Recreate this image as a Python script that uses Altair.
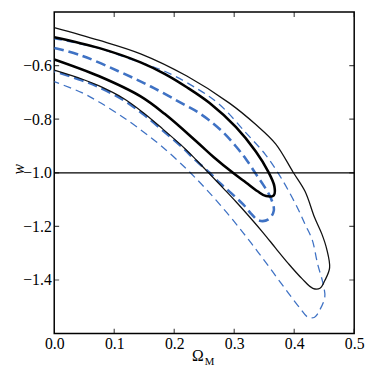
import altair as alt
import pandas as pd

# ---- data ----
# inner contour, solid black (thick)
tb_om = [0.000, 0.074, 0.144, 0.184, 0.221, 0.259, 0.303, 0.336, 0.356, 0.367, 0.366, 0.353,
         0.339, 0.320, 0.300, 0.266, 0.238, 0.184, 0.144, 0.074, 0.000]
tb_w = [-0.494, -0.534, -0.588, -0.631, -0.681, -0.740, -0.830, -0.921, -0.993, -1.051, -1.084, -1.087,
        -1.069, -1.037, -1.004, -0.942, -0.885, -0.780, -0.715, -0.639, -0.577]

# outer contour, solid black (thin)
ob_om = [0.000, 0.074, 0.144, 0.221, 0.292, 0.336, 0.369, 0.398, 0.418, 0.434, 0.446, 0.454, 0.459,
         0.451, 0.443, 0.431, 0.413, 0.390, 0.369, 0.348, 0.325, 0.303, 0.282, 0.259, 0.238, 0.218,
         0.180, 0.148, 0.115, 0.074, 0.046, 0.000]
ob_w = [-0.458, -0.505, -0.556, -0.639, -0.740, -0.820, -0.892, -0.997, -1.069, -1.167, -1.228, -1.283,
        -1.355, -1.402, -1.431, -1.431, -1.395, -1.338, -1.281, -1.223, -1.163, -1.108, -1.058, -1.004,
        -0.955, -0.910, -0.835, -0.775, -0.722, -0.675, -0.650, -0.617]

# inner contour, dashed blue (thick)
tbl_om = [0.000, 0.046, 0.107, 0.161, 0.216, 0.238, 0.259, 0.282, 0.303, 0.320, 0.336, 0.349, 0.361,
          0.366, 0.357, 0.341, 0.328, 0.315, 0.295, 0.275, 0.259, 0.233, 0.216, 0.180, 0.148, 0.115,
          0.074, 0.046, 0.000]
tbl_w = [-0.534, -0.563, -0.621, -0.678, -0.745, -0.772, -0.805, -0.850, -0.902, -0.950, -1.004, -1.047,
         -1.094, -1.141, -1.174, -1.178, -1.152, -1.118, -1.076, -1.036, -1.000, -0.948, -0.910, -0.840,
         -0.781, -0.728, -0.680, -0.655, -0.621]

# outer contour, dashed blue (thin)
obl_om = [0.000, 0.074, 0.128, 0.184, 0.238, 0.275, 0.320, 0.352, 0.374, 0.390, 0.407, 0.418, 0.430,
          0.439, 0.448, 0.451, 0.443, 0.434, 0.423, 0.410, 0.390, 0.364, 0.339, 0.315, 0.287, 0.254,
          0.221, 0.177, 0.139, 0.107, 0.074, 0.046, 0.000]
obl_w = [-0.500, -0.535, -0.577, -0.621, -0.686, -0.744, -0.852, -0.932, -1.004, -1.065, -1.138, -1.192,
         -1.250, -1.340, -1.413, -1.463, -1.510, -1.539, -1.539, -1.506, -1.448, -1.369, -1.294, -1.224,
         -1.147, -1.063, -0.987, -0.897, -0.831, -0.781, -0.735, -0.701, -0.660]

hline_w = [-1.0]
x_ticks = [0.0, 0.1, 0.2, 0.3, 0.4, 0.5]
y_ticks = [-1.4, -1.2, -1.0, -0.8, -0.6]

FONT = "Liberation Serif"
BLUE = "#3f72c4"

x_scale = alt.Scale(domain=[0, 0.5], nice=False, zero=False)
y_scale = alt.Scale(domain=[-1.6, -0.4], nice=False, zero=False)
x_axis = alt.Axis(values=x_ticks, format=".1f", ticks=False, domain=False, grid=False, title=None,
                  labelFont=FONT, labelFontSize=16, labelColor="black", labelPadding=2,
                  labelFlush=False, labelOverlap=False)
y_axis = alt.Axis(values=y_ticks, format=".1f", ticks=False, domain=False, grid=False, title=None,
                  labelFont=FONT, labelFontSize=16, labelColor="black", labelPadding=3,
                  labelOverlap=False)


def X(field):
    return alt.X(field, scale=x_scale, axis=x_axis)


def Y(field):
    return alt.Y(field, scale=y_scale, axis=y_axis)


def contour(om, w, color, width, dash=None):
    df = pd.DataFrame({"om": om, "w": w, "i": list(range(len(om)))})
    mk = dict(color=color, strokeWidth=width, interpolate="catmull-rom", clip=True)
    if dash:
        mk["strokeDash"] = dash
    return alt.Chart(df).mark_line(**mk).encode(x=X("om:Q"), y=Y("w:Q"), order="i:Q")


hline = alt.Chart(pd.DataFrame({"w": hline_w})).mark_rule(color="black", strokeWidth=1.3).encode(
    y=Y("w:Q")
)

xt = pd.DataFrame({"om": x_ticks})
yt = pd.DataFrame({"w": y_ticks})
tick_style = dict(color="black", size=10, thickness=1.2, clip=True)
t_bottom = alt.Chart(xt).mark_tick(orient="vertical", **tick_style).encode(
    x=X("om:Q"), y=alt.YDatum(-1.6, scale=y_scale, axis=y_axis))
t_top = alt.Chart(xt).mark_tick(orient="vertical", **tick_style).encode(
    x=X("om:Q"), y=alt.YDatum(-0.4, scale=y_scale, axis=y_axis))
t_left = alt.Chart(yt).mark_tick(orient="horizontal", **tick_style).encode(
    y=Y("w:Q"), x=alt.XDatum(0.0, scale=x_scale, axis=x_axis))
t_right = alt.Chart(yt).mark_tick(orient="horizontal", **tick_style).encode(
    y=Y("w:Q"), x=alt.XDatum(0.5, scale=x_scale, axis=x_axis))

title_df = pd.DataFrame({"t": ["x"]})
omega = alt.Chart(title_df).mark_text(text="Ω", font=FONT, fontSize=16, color="black",
                                      align="center", baseline="alphabetic").encode(
    x=alt.value(146), y=alt.value(355))
omega_sub = alt.Chart(title_df).mark_text(text="M", font=FONT, fontSize=11, color="black",
                                          align="left", baseline="alphabetic").encode(
    x=alt.value(153), y=alt.value(359))
w_title = alt.Chart(title_df).mark_text(text="w", font=FONT, fontSize=16, fontStyle="italic",
                                        color="black", align="center", baseline="middle",
                                        angle=270).encode(
    x=alt.value(-36), y=alt.value(160))

chart = alt.layer(
    contour(obl_om, obl_w, BLUE, 1.3, [8, 5]),
    contour(tbl_om, tbl_w, BLUE, 2.6, [10, 5]),
    contour(ob_om, ob_w, "#111111", 1.3),
    contour(tb_om, tb_w, "black", 2.6),
    hline, t_bottom, t_top, t_left, t_right, omega, omega_sub, w_title,
).properties(
    width=305, height=327,
    autosize=alt.AutoSizeParams(type="none"),
    padding={"left": 47, "top": 1, "right": 12, "bottom": 36},
).configure(font=FONT
).configure_view(stroke="black", strokeWidth=1.5
).configure_axis(labelFont=FONT)

chart.save("out.html", embed_options={"renderer": "svg", "actions": False})
